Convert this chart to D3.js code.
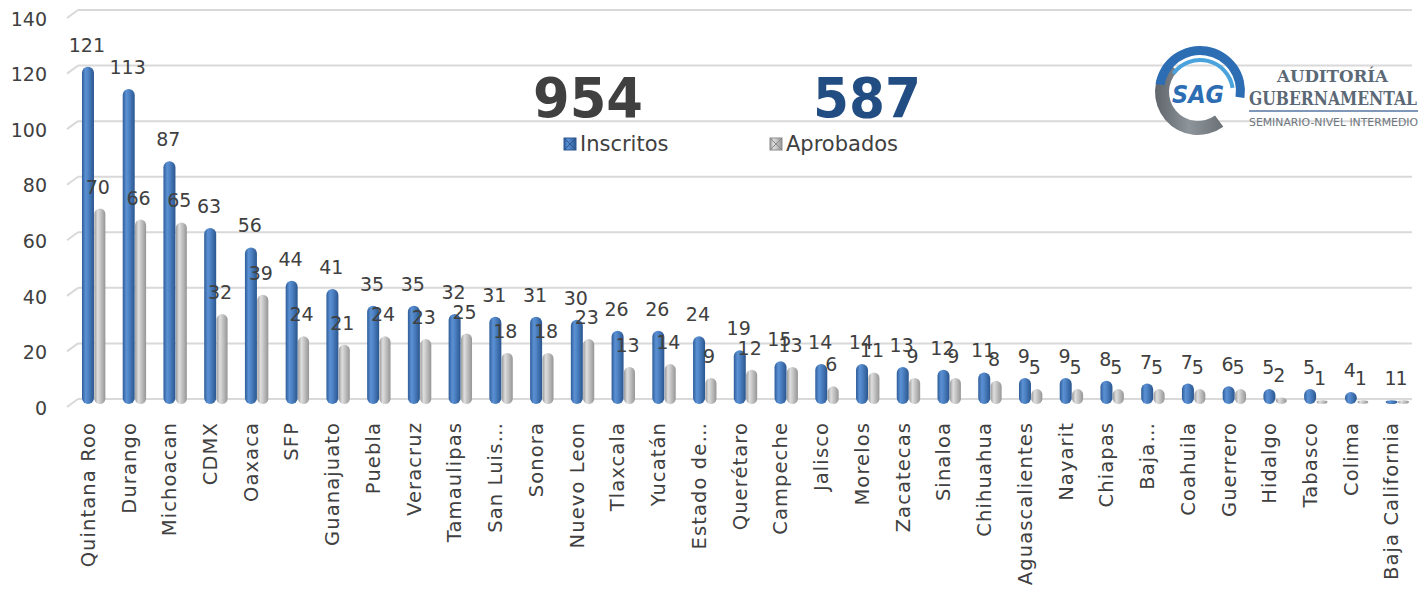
<!DOCTYPE html>
<html>
<head>
<meta charset="utf-8">
<script src="https://cdn.jsdelivr.net/npm/d3@7"></script>
<style>
  body { margin: 0; background: #fff; }
  text { font-family: "DejaVu Sans", Verdana, sans-serif; fill: #404040; }
</style>
</head>
<body>
<div id="drawing_region"></div>
<script>
const estados = ["Quintana Roo", "Durango", "Michoacan", "CDMX", "Oaxaca", "SFP", "Guanajuato",
    "Puebla", "Veracruz", "Tamaulipas", "San Luis…", "Sonora", "Nuevo Leon", "Tlaxcala", "Yucatán",
    "Estado de…", "Querétaro", "Campeche", "Jalisco", "Morelos", "Zacatecas", "Sinaloa", "Chihuahua",
    "Aguascalientes", "Nayarit", "Chiapas", "Baja…", "Coahuila", "Guerrero", "Hidalgo", "Tabasco",
    "Colima", "Baja California"];
const inscritos = [121, 113, 87, 63, 56, 44, 41, 35, 35, 32, 31, 31, 30, 26, 26, 24, 19, 15, 14, 14,
    13, 12, 11, 9, 9, 8, 7, 7, 6, 5, 5, 4, 1];
const aprobados = [70, 66, 65, 32, 39, 24, 21, 24, 23, 25, 18, 18, 23, 13, 14, 9, 12, 13, 6, 11,
    9, 9, 8, 5, 5, 5, 5, 5, 5, 2, 1, 1, 1];
const yticks = [0, 20, 40, 60, 80, 100, 120, 140];
const totalInscritos = 954;
const totalAprobados = 587;

const width = 1428, height = 589;

const svg = d3.select('#drawing_region')
    .append('svg')
    .attr('width', width)
    .attr('height', height);

const defs = svg.append('defs');
function cylGrad(id, stops) {
    const g = defs.append('linearGradient').attr('id', id)
        .attr('x1', 0).attr('x2', 1).attr('y1', 0).attr('y2', 0);
    stops.forEach(s => g.append('stop').attr('offset', s[0]).attr('stop-color', s[1]));
}
cylGrad('gBlue', [[0, '#2d5c99'], [0.3, '#5b90d3'], [0.5, '#4f84c6'], [1, '#2a568f']]);
cylGrad('gGray', [[0, '#9a9a9a'], [0.3, '#dedede'], [0.5, '#cacaca'], [1, '#959595']]);
cylGrad('gLogo', [[0, '#5f656b'], [0.5, '#8d949a'], [1, '#6a7076']]);

// scales
const xscale = d3.scaleBand()
    .domain(estados)
    .range([70, 1414.4]);

const yscale = d3.scaleLinear()
    .domain([0, 140])
    .range([399, 10]);

const depth = 4;     // bars sit a little in front of the back wall
const floorY = 404;

// gridlines (back wall + small floor stub)
const grid = svg.append('g');
grid.selectAll('line.h')
    .data(yticks)
    .join('line')
    .attr('x1', 78).attr('x2', 1412)
    .attr('y1', d => yscale(d)).attr('y2', d => yscale(d))
    .attr('stroke', '#d9d9d9').attr('stroke-width', 2);
grid.selectAll('line.d')
    .data(yticks)
    .join('line')
    .attr('x1', 67).attr('x2', 78)
    .attr('y1', d => yscale(d) + 8).attr('y2', d => yscale(d))
    .attr('stroke', '#d9d9d9').attr('stroke-width', 2);

// y tick labels
svg.append('g').selectAll('text')
    .data(yticks)
    .join('text')
    .attr('x', 47)
    .attr('y', d => yscale(d) + 9)
    .attr('dy', '0.35em')
    .attr('text-anchor', 'end')
    .attr('font-size', 19)
    .text(d => d);

// bars
const bw = 12;
const cx = d => xscale(d) + xscale.bandwidth() / 2;
const bars = svg.append('g');

function drawSeries(values, offset, w, grad) {
    bars.append('g').selectAll('rect')
        .data(estados)
        .join('rect')
        .attr('x', d => cx(d) + offset - w / 2)
        .attr('y', (d, i) => yscale(values[i]) + depth)
        .attr('width', w)
        .attr('height', (d, i) => floorY - yscale(values[i]) - depth)
        .attr('rx', w / 2)
        .attr('fill', `url(#${grad})`);
}
drawSeries(aprobados, 9.5, 11, 'gGray');
drawSeries(inscritos, -2.4, bw, 'gBlue');

// value labels
function drawLabels(values, offset) {
    svg.append('g').selectAll('text')
        .data(estados)
        .join('text')
        .attr('x', d => cx(d) + offset)
        .attr('y', (d, i) => yscale(values[i]) + depth - 15)
        .attr('text-anchor', 'middle')
        .attr('font-size', 19)
        .text((d, i) => values[i]);
}
drawLabels(inscritos, -3.5);
drawLabels(aprobados, 7.5);

// category labels (Verdana is wider, so add a bit of spacing)
svg.append('g').selectAll('text')
    .data(estados)
    .join('text')
    .attr('transform', d => `translate(${cx(d) - 2.4}, 422) rotate(-90)`)
    .attr('dy', '0.35em')
    .attr('text-anchor', 'end')
    .attr('font-size', 19.5)
    .attr('letter-spacing', 1.1)
    .text(d => d);

// totals
svg.append('text')
    .attr('x', 588).attr('y', 117)
    .attr('text-anchor', 'middle')
    .attr('font-size', 56).attr('font-weight', 'bold')
    .attr('textLength', 110).attr('lengthAdjust', 'spacingAndGlyphs')
    .style('fill', '#404040')
    .text(totalInscritos);
svg.append('text')
    .attr('x', 867).attr('y', 117)
    .attr('text-anchor', 'middle')
    .attr('font-size', 56).attr('font-weight', 'bold')
    .attr('textLength', 108).attr('lengthAdjust', 'spacingAndGlyphs')
    .style('fill', '#214d82')
    .text(totalAprobados);

// legend
const legend = [
    {label: 'Inscritos', x: 564, grad: 'gBlue', edge: '#2a568f'},
    {label: 'Aprobados', x: 770, grad: 'gGray', edge: '#8a8a8a'}
];
const lg = svg.append('g').selectAll('g')
    .data(legend)
    .join('g')
    .attr('transform', d => `translate(${d.x}, 138)`);
lg.append('rect')
    .attr('width', 12).attr('height', 12)
    .attr('fill', d => `url(#${d.grad})`)
    .attr('stroke', d => d.edge).attr('stroke-width', 1);
lg.append('path')
    .attr('d', 'M0,0 L6,6 L12,0 M0,12 L6,6 L12,12')
    .attr('stroke', d => d.edge).attr('stroke-width', 1).attr('fill', 'none');
lg.append('text')
    .attr('x', 16).attr('y', 12.5)
    .attr('font-size', 21)
    .text(d => d.label);

// logo
const logo = svg.append('g');
const arc = d3.arc();
logo.append('path')
    .attr('transform', 'translate(1198,92)')
    .attr('d', arc({innerRadius: 29, outerRadius: 43, startAngle: Math.PI * 0.8, endAngle: Math.PI * 1.75}))
    .attr('fill', 'url(#gLogo)');
logo.append('path')
    .attr('transform', 'translate(1200,91)')
    .attr('d', arc({innerRadius: 36, outerRadius: 45, startAngle: -Math.PI * 0.45, endAngle: Math.PI * 0.55}))
    .attr('fill', '#2c6db3');
logo.append('path')
    .attr('transform', 'translate(1200,93)')
    .attr('d', arc({innerRadius: 31, outerRadius: 35, startAngle: -Math.PI * 0.3, endAngle: Math.PI * 0.45}))
    .attr('fill', '#4aa3dd');
logo.append('text')
    .attr('x', 1198).attr('y', 103)
    .attr('text-anchor', 'middle')
    .attr('font-size', 25).attr('font-weight', 'bold').attr('font-style', 'italic')
    .attr('textLength', 52).attr('lengthAdjust', 'spacingAndGlyphs')
    .style('fill', '#2c6db3').style('stroke', '#fff').style('stroke-width', 1.5)
    .style('paint-order', 'stroke')
    .text('SAG');
logo.append('text')
    .attr('x', 1277).attr('y', 82)
    .attr('font-size', 17).attr('font-weight', 'bold')
    .attr('textLength', 111).attr('lengthAdjust', 'spacingAndGlyphs')
    .style('font-family', '"DejaVu Serif", serif').style('fill', '#5b6875')
    .text('AUDITORÍA');
logo.append('text')
    .attr('x', 1249).attr('y', 105)
    .attr('font-size', 19).attr('font-weight', 'bold')
    .attr('textLength', 168).attr('lengthAdjust', 'spacingAndGlyphs')
    .style('font-family', '"DejaVu Serif", serif').style('fill', '#5b6875')
    .text('GUBERNAMENTAL');
logo.append('line')
    .attr('x1', 1249).attr('x2', 1418).attr('y1', 111).attr('y2', 111)
    .attr('stroke', '#7f98ba').attr('stroke-width', 2);
logo.append('text')
    .attr('x', 1249).attr('y', 126)
    .attr('font-size', 10.5)
    .attr('textLength', 169).attr('lengthAdjust', 'spacingAndGlyphs')
    .style('font-family', '"DejaVu Sans Condensed", sans-serif').style('fill', '#6f767d')
    .text('SEMINARIO-NIVEL INTERMEDIO');
</script>
</body>
</html>
